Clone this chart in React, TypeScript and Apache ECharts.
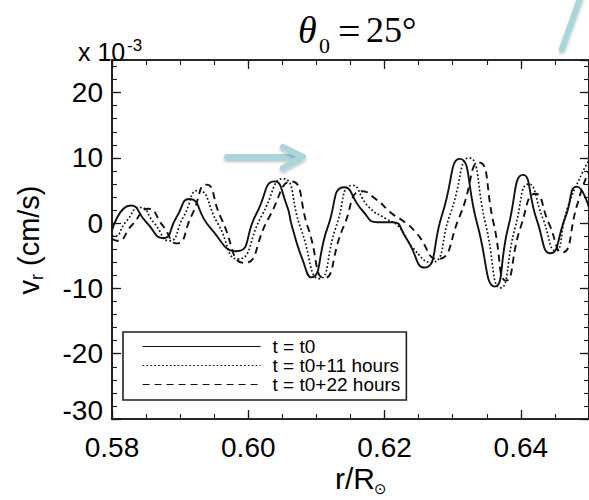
import React, { useEffect, useRef } from "react";
import * as echarts from "echarts";

// r/R_sun positions and v_r values (x 10^-3 cm/s)
const r0 = [0.58, 0.58274, 0.58507, 0.58751, 0.58946, 0.59131, 0.59434, 0.59824, 0.60117, 0.60385, 0.60556, 0.60644, 0.608, 0.60922, 0.61166, 0.61409, 0.61677, 0.61897, 0.62116, 0.62311, 0.62579, 0.62847, 0.63102, 0.63359, 0.63618, 0.63815, 0.64032, 0.64237, 0.64433, 0.64653, 0.64823, 0.65];
const v0 = [-1.1, 2.7, 0.1, -2.3, 0.9, 3.7, -0.6, -4.3, 1.4, 6.4, 3.0, -0.6, -5.7, -8.3, -0.6, 5.5, 1.9, 0.15, 0.15, -2.2, -6.8, 1.4, 9.85, -0.1, -9.7, -0.6, 7.4, 0.4, -4.6, 0.9, 5.6, 2.4];

const r11 = [0.58, 0.5803, 0.5821, 0.5841, 0.5862, 0.58838, 0.5905, 0.59263, 0.5955, 0.59848, 0.602, 0.60506, 0.6077, 0.61043, 0.6129, 0.6153, 0.61775, 0.62019, 0.62214, 0.62409, 0.62677, 0.6296, 0.63238, 0.6348, 0.63701, 0.6392, 0.64116, 0.6432, 0.64506, 0.64686, 0.64905, 0.65];
const v11 = [-1.9, -2.0, 0.3, 2.4, 0.0, -2.7, 1.0, 5.0, 0.0, -5.5, 1.2, 6.8, -0.8, -8.5, -0.5, 5.8, 2.4, 0.7, -0.6, -3.7, -6.0, 1.3, 10.0, 0.0, -9.9, -0.5, 6.0, 0.8, -4.2, 2.4, 7.8, 9.6];

const r22 = [0.58, 0.5807, 0.583, 0.58531, 0.5874, 0.58946, 0.5917, 0.59384, 0.596, 0.59945, 0.603, 0.60627, 0.6088, 0.61116, 0.614, 0.61677, 0.6187, 0.62116, 0.62263, 0.62459, 0.62773, 0.631, 0.63384, 0.636, 0.63783, 0.64, 0.64213, 0.6441, 0.64603, 0.64832, 0.64905, 0.65];
const v22 = [-2.4, -2.7, -0.2, 2.2, -0.3, -3.1, 1.2, 5.9, 0.8, -6.1, 0.8, 6.4, -0.8, -8.4, -0.5, 4.9, 3.7, 1.4, 0.4, -1.4, -5.5, 1.0, 9.3, 0.0, -8.8, -0.5, 4.5, 0.0, -4.5, 3.0, 5.5, 8.0];

const seriesNames = ["t = t0", "t = t0+11 hours", "t = t0+22 hours"];
const xMin = 0.58;
const xMax = 0.65;
const yMin = -30;
const yMax = 25;

const SANS = "'Liberation Sans', Arial, Helvetica, sans-serif";
const SERIF = "'Liberation Serif', 'Times New Roman', serif";
const TEAL = "#a9d6db";
const INK = "#111111";

const zip = (xs: number[], ys: number[]) => xs.map((x, i) => [x, ys[i]]);

function txt(x: number, y: number, text: string, font: string, align = "left") {
  return {
    type: "text",
    x,
    y,
    silent: true,
    style: {
      text,
      font,
      fill: "#000",
      align,
      textAlign: align,
      verticalAlign: "middle",
      textVerticalAlign: "middle",
    },
  };
}

const shadow = { shadowBlur: 3, shadowOffsetY: 2, shadowColor: "rgba(0,0,0,0.25)" };

export default function App() {
  const ref = useRef<HTMLDivElement>(null);

  useEffect(() => {
    const chart = echarts.init(ref.current!, null, { renderer: "svg" });
    const frame = { color: "#1a1a1a", width: 1.6 };
    const xBase = {
      type: "value",
      min: xMin,
      max: xMax,
      axisLine: { show: true, onZero: false, lineStyle: frame },
      splitLine: { show: false },
    };
    const yBase = {
      type: "value",
      min: yMin,
      max: yMax,
      axisLine: { show: true, onZero: false, lineStyle: frame },
      splitLine: { show: false },
    };
    const majorTick = { show: true, inside: true, length: 9, lineStyle: { color: "#1a1a1a", width: 1.3 } };
    const minorTick = { show: true, inside: true, length: 5, lineStyle: { color: "#1a1a1a", width: 1.1 } };
    const smooth = 0.6;

    chart.setOption({
      animation: false,
      backgroundColor: "#ffffff",
      grid: { left: 112, right: -1, top: 60, bottom: 81, containLabel: false },
      xAxis: [
        {
          ...xBase,
          position: "bottom",
          interval: 0.02,
          axisTick: majorTick,
          axisLabel: {
            show: true,
            margin: 14,
            fontSize: 28,
            fontFamily: SANS,
            color: "#000",
            showMaxLabel: false,
            formatter: (v: number) => v.toFixed(2),
          },
        },
        { ...xBase, position: "bottom", interval: 0.005, axisTick: minorTick, axisLabel: { show: false } },
        { ...xBase, position: "top", interval: 0.02, axisTick: majorTick, axisLabel: { show: false } },
        { ...xBase, position: "top", interval: 0.005, axisTick: minorTick, axisLabel: { show: false } },
      ],
      yAxis: [
        {
          ...yBase,
          position: "left",
          interval: 10,
          axisTick: majorTick,
          axisLabel: {
            show: true,
            margin: 9,
            fontSize: 28,
            fontFamily: SANS,
            color: "#000",
            showMaxLabel: false,
            formatter: (v: number) => (v === yMin ? `{low|${v}}` : `${v}`),
            rich: { low: { fontSize: 28, fontFamily: SANS, color: "#000", padding: [0, 0, 18, 0] } },
          },
        },
        { ...yBase, position: "left", interval: 2, axisTick: minorTick, axisLabel: { show: false } },
        { ...yBase, position: "right", interval: 10, axisTick: majorTick, axisLabel: { show: false } },
        { ...yBase, position: "right", interval: 2, axisTick: minorTick, axisLabel: { show: false } },
      ],
      legend: {
        left: 123,
        top: 332,
        orient: "vertical",
        data: seriesNames,
        selectedMode: false,
        itemWidth: 118,
        itemHeight: 14,
        itemGap: 0,
        padding: [5, 6, 6, 19],
        borderColor: "#222",
        borderWidth: 1.6,
        backgroundColor: "#ffffff",
        itemStyle: { opacity: 0 },
        lineStyle: { width: 1.1 },
        textStyle: { fontSize: 19, fontFamily: SANS, color: "#000", padding: [0, 0, 0, 7], lineHeight: 18.5 },
      },
      series: [
        {
          name: seriesNames[0],
          type: "line",
          data: zip(r0, v0),
          smooth,
          symbol: "none",
          xAxisIndex: 0,
          yAxisIndex: 0,
          lineStyle: { color: INK, width: 1.9, type: "solid" },
          itemStyle: { color: INK },
          z: 4,
        },
        {
          name: seriesNames[1],
          type: "line",
          data: zip(r11, v11),
          smooth,
          symbol: "none",
          xAxisIndex: 0,
          yAxisIndex: 0,
          lineStyle: { color: INK, width: 1.7, type: [1.7, 2.2] },
          itemStyle: { color: INK },
          z: 3,
        },
        {
          name: seriesNames[2],
          type: "line",
          data: zip(r22, v22),
          smooth,
          symbol: "none",
          xAxisIndex: 0,
          yAxisIndex: 0,
          lineStyle: { color: INK, width: 1.9, type: [7, 5] },
          itemStyle: { color: INK },
          z: 2,
        },
      ],
      graphic: [
        // title
        txt(298, 30, "θ", `italic 38px ${SERIF}`),
        txt(319, 45, "0", `22px ${SERIF}`),
        txt(338, 31, "=", `40px ${SERIF}`),
        txt(366, 30, "25°", `36px ${SERIF}`),
        // multiplier
        txt(78, 52, "x 10", `25px ${SANS}`),
        txt(127, 45, "-3", `17px ${SANS}`),
        // y axis name
        {
          type: "group",
          x: 29,
          y: 240,
          rotation: Math.PI / 2,
          children: [
            txt(-54.5, 0, "v", `29px ${SANS}`),
            txt(-40, 8, "r", `18px ${SANS}`),
            txt(-26, 0, "(cm/s)", `29px ${SANS}`),
          ],
        },
        // x axis name
        txt(335, 478, "r/R", `30px ${SANS}`),
        txt(374, 489, "⊙", `15px 'DejaVu Sans', sans-serif`),
        // decorative arrow
        {
          type: "rect",
          silent: true,
          shape: { x: 224, y: 154, width: 76, height: 6, r: 3 },
          style: { fill: TEAL, ...shadow },
        },
        {
          type: "polyline",
          silent: true,
          shape: { points: [[283, 147], [303, 157], [283, 168]] },
          style: { stroke: TEAL, fill: null, lineWidth: 6, lineCap: "round", lineJoin: "round", ...shadow },
        },
        {
          type: "line",
          silent: true,
          shape: { x1: 581, y1: -4, x2: 562, y2: 49 },
          style: { stroke: TEAL, lineWidth: 6, lineCap: "round", ...shadow },
        },
      ],
    });
    return () => chart.dispose();
  }, []);

  return (
    <div
      ref={ref}
      style={{ position: "fixed", left: 0, top: 0, width: 589, height: 500, background: "#fff" }}
    />
  );
}
